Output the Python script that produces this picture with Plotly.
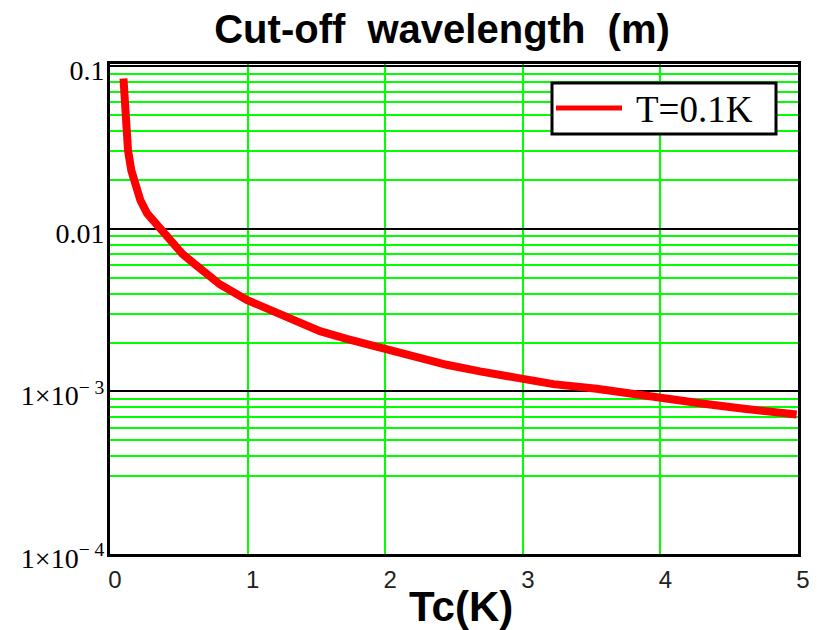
import plotly.graph_objects as go

# ---- data ----
tc_K = [0.098, 0.105, 0.117, 0.131, 0.155, 0.184, 0.221, 0.270, 0.331, 0.392,
        0.452, 0.524, 0.609, 0.694, 0.800, 0.994, 1.139, 1.332, 1.526, 1.720,
        1.982, 2.204, 2.447, 2.689, 2.996, 3.222, 3.537, 3.730, 3.990, 4.288,
        4.578, 4.990]
wavelength_m = [0.0843, 0.0589, 0.0422, 0.0304, 0.0229, 0.0181, 0.0150, 0.01245,
                0.01081, 0.00938, 0.00815, 0.00706, 0.00614, 0.00542, 0.00455,
                0.00366, 0.00327, 0.00274, 0.00235, 0.00211, 0.00185, 0.00163,
                0.00146, 0.00133, 0.00121, 0.00111, 0.00104, 0.00098, 0.000923,
                0.000847, 0.000789, 0.000721]

x_ticks = [0, 1, 2, 3, 4, 5]
y_major = [1e-4, 1e-3, 1e-2, 1e-1]
y_major_text = ["1×10<sup>− 4</sup>", "1×10<sup>− 3</sup>", "0.01", "0.1"]
y_minor = [3e-4, 4e-4, 5e-4, 6e-4, 7e-4, 8e-4, 9e-4,
           2e-3, 3e-3, 4e-3, 5e-3, 6e-3, 7e-3, 8e-3, 9e-3,
           2e-2, 3e-2, 4e-2, 5e-2, 6e-2, 7e-2, 8e-2, 9e-2]
series_name = "T=0.1K"
title_text = "Cut-off\u00a0 wavelength\u00a0 (m)"
x_title = "Tc(K)"

GREEN = "#00ff00"
W, H = 818, 630
# plot area in page pixels: x 110..798, y 64..554
L, R, T, B = 110, W - 798, 64, H - 554
pw, ph = W - L - R, H - T - B

fig = go.Figure()
fig.add_trace(go.Scatter(x=tc_K, y=wavelength_m, mode="lines", name=series_name,
                         line=dict(color="#ff0000", width=8), showlegend=False))

fig.update_layout(
    width=W, height=H, autosize=False,
    margin=dict(l=L, r=R, t=T, b=B, pad=0),
    paper_bgcolor="white", plot_bgcolor="white",
    title=dict(text="<b>" + title_text + "</b>", x=442 / W, xref="container",
               xanchor="center", y=1 - 29 / H, yanchor="middle",
               font=dict(family="Liberation Sans, Arial", size=40, color="black")),
    xaxis=dict(range=[0, 5], tickvals=x_ticks, showgrid=True, gridcolor=GREEN, gridwidth=2,
               zeroline=False, showline=True, linecolor="black", linewidth=3, mirror=True,
               automargin=False,
               ticks="", ticklabelstandoff=2, ticklabelshift=5,
               tickfont=dict(family="Liberation Sans, Arial", size=24, color="#222")),
    yaxis=dict(type="log", range=[-4, -0.985], tickmode="array", tickvals=y_major,
               ticktext=y_major_text, showgrid=True, gridcolor="black", gridwidth=2,
               zeroline=False, showline=True, linecolor="black", linewidth=3, mirror=True,
               automargin=False,
               ticks="", ticklabelstandoff=-3, ticklabelshift=4,
               tickfont=dict(family="Liberation Serif, Times New Roman", size=28, color="black"),
               minor=dict(tickmode="array", tickvals=y_minor, showgrid=True,
                          gridcolor=GREEN, gridwidth=2, ticks="")),
)

# positions in page pixels -> paper coordinates
def px_x(p):
    return (p - L) / pw

def px_y(p):
    return (H - B - p) / ph

# x-axis title (placed as annotation so it can sit between the tick labels)
fig.add_annotation(text="<b>" + x_title + "</b>", xref="paper", yref="paper",
                   x=px_x(461), y=px_y(606), xanchor="center", yanchor="middle",
                   showarrow=False,
                   font=dict(family="Liberation Sans, Arial", size=42, color="black"))

# legend box (manual, to match the long sample line)
fig.add_shape(type="rect", xref="paper", yref="paper",
              x0=px_x(552), x1=px_x(776), y0=px_y(134), y1=px_y(83),
              line=dict(color="black", width=3), fillcolor="white", layer="above")
fig.add_shape(type="line", xref="paper", yref="paper",
              x0=px_x(556), x1=px_x(622), y0=px_y(108), y1=px_y(108),
              line=dict(color="#ff0000", width=5), layer="above")
fig.add_annotation(text=series_name, xref="paper", yref="paper",
                   x=px_x(634), y=px_y(109), xanchor="left", yanchor="middle",
                   showarrow=False,
                   font=dict(family="Liberation Serif, Times New Roman", size=37, color="black"))

fig.write_html("out.html", config={"displayModeBar": False},
               post_script="document.body.style.margin='0';document.body.style.overflow='hidden';")
